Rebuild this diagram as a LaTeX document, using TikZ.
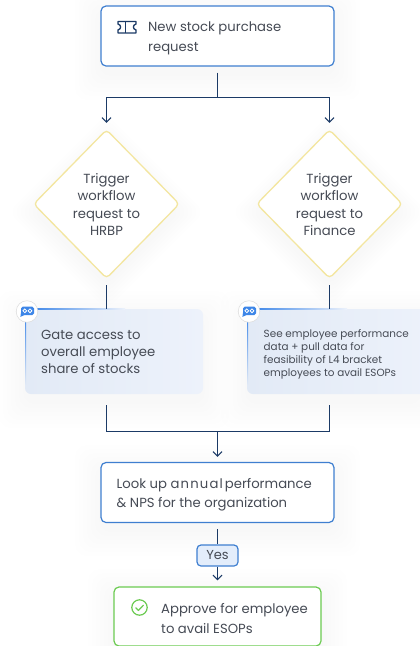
\documentclass[tikz,border=0pt]{standalone}
\usepackage{fontspec}
\setmainfont{Poppins}
\usetikzlibrary{shapes.geometric,arrows.meta}
\definecolor{navy}{HTML}{1B3A66}
\definecolor{boxblue}{HTML}{3F7FD0}
\definecolor{okgreen}{HTML}{6CCB52}
\definecolor{gateyellow}{HTML}{F3E6A0}
\definecolor{inktext}{HTML}{464B55}
\definecolor{panelA}{HTML}{E2EAF6}
\definecolor{panelB}{HTML}{EDF2FB}
\definecolor{pillfill}{HTML}{E3EDFB}
\definecolor{iconblue}{HTML}{3D86E8}
\newcommand{\softshadow}[4]{%
  \foreach \g in {2,6,...,26}{%
    \fill[black,opacity=0.0045,rounded corners=12] (#1-\g,#2-\g+8) rectangle (#3+\g,#4+\g+8);}}
\newcommand{\softdiamond}[3]{%
  \foreach \g in {2,6,...,26}{%
    \fill[black,opacity=0.0045,rounded corners=10] (#1,#2-#3-\g+8) -- (#1+#3+\g,#2+8) -- (#1,#2+#3+\g+8) -- (#1-#3-\g,#2+8) -- cycle;}}
\newcommand{\bubbleicon}[2]{%
  \begin{scope}[shift={(#1,#2)}]
    \fill[white,draw=black!14,line width=0.5] (0,0) circle (10.8);
    \fill[iconblue,rounded corners=1.8] (-6,-5) rectangle (7,3.6);
    \fill[iconblue] (-6,1) -- (-6.6,5.4) -- (-2,3.2) -- cycle;
    \draw[white,line width=0.8] (-2.2,-0.7) circle (1.9);
    \draw[white,line width=0.8] (3,-0.7) circle (1.9);
  \end{scope}}
\tikzset{
  x=1pt,y=-1pt,
  flowbox/.style={draw=boxblue,line width=1.2,fill=white,rounded corners=5,minimum width=233,minimum height=60,inner sep=0},
  okbox/.style={draw=okgreen,line width=1.2,fill=white,rounded corners=5,minimum width=207,minimum height=59,inner sep=0},
  gate/.style={diamond,draw=gateyellow,line width=1.3,fill=white,rounded corners=4,minimum width=146,minimum height=149,inner sep=0},
  panel/.style={rectangle,rounded corners=6,inner sep=0,left color=panelA,right color=panelB},
  label/.style={inner sep=0,text=inktext,font=\fontsize{13.2}{19.5}\selectfont,align=left},
  tightlabel/.style={inner sep=0,text=inktext,font=\fontsize{13.2}{17.2}\selectfont,align=left},
  smalllabel/.style={inner sep=0,text=inktext,font=\fontsize{10.4}{13.2}\selectfont,align=left},
  centerlabel/.style={inner sep=0,text=inktext,font=\fontsize{13.2}{17.2}\selectfont,align=center},
  pill/.style={draw=boxblue,line width=1.2,fill=pillfill,rounded corners=4,minimum width=41,minimum height=21,inner sep=0,text=inktext,font=\fontsize{13}{14}\selectfont},
  link/.style={draw=navy,line width=1.2},
  linkarrow/.style={link,-{Straight Barb[length=4.5,width=9,line width=1.1]}},
}
\begin{document}
\begin{tikzpicture}
\useasboundingbox (0,0) rectangle (420,646);
\fill[white] (0,0) rectangle (420,646);

% soft shadows
\softshadow{101}{6}{334}{66}
\softdiamond{106.5}{204}{72}
\softdiamond{329.5}{204}{72}
\softshadow{25}{309}{203}{394}
\softshadow{247}{309}{420}{394}
\softshadow{101}{463}{334}{522}
\softshadow{114}{587}{321}{646}

% shapes
\node[flowbox] (start) at (217.5,36) {};
\node[gate] (hrbp) at (106.5,204) {};
\node[gate] (fin) at (329.5,204) {};
\node[panel,minimum width=178,minimum height=85] (gatepanel) at (114,351.5) {};
\node[panel,minimum width=190,minimum height=85] (seepanel) at (342,351.5) {};
\node[flowbox] (lookup) at (217.5,492.5) {};
\node[okbox] (approve) at (217.5,616.5) {};

% blue accent edges of the panels
\shade[left color=iconblue,right color=panelB] (31,308.6) rectangle (125,309.6);
\shade[top color=iconblue,bottom color=panelA] (25,315) rectangle (26,385);
\shade[left color=iconblue,right color=panelB] (253,308.6) rectangle (347,309.6);
\shade[top color=iconblue,bottom color=panelA] (247,315) rectangle (248,385);

% connector junctions
\coordinate (splitT) at (start.south |- 0,97.5);
\coordinate (splitL) at (hrbp.north |- 0,97.5);
\coordinate (splitR) at (fin.north |- 0,97.5);
\coordinate (mergeT) at (lookup.north |- 0,431.5);
\coordinate (mergeL) at (hrbp.south |- 0,431.5);
\coordinate (mergeR) at (fin.south |- 0,431.5);

% connectors
\draw[link,shorten <=6] (start.south) -- (splitT);
\draw[linkarrow,shorten >=6] (splitT) -- (splitL) -- (hrbp.north);
\draw[linkarrow,shorten >=6] (splitT) -- (splitR) -- (fin.north);
\draw[link,shorten <=6] (hrbp.south) -- (gatepanel.north -| hrbp.south);
\draw[link,shorten <=6] (fin.south) -- (seepanel.north -| fin.south);
\draw[link,shorten >=11] (mergeL) -- (gatepanel.south -| hrbp.south);
\draw[link,shorten >=11] (mergeR) -- (seepanel.south -| fin.south);
\draw[link] (mergeL) -- (mergeR);
\draw[linkarrow,shorten >=5] (mergeT) -- (lookup.north);
\node[pill] (yes) at (217.5,555.5) {Yes};
\draw[link,shorten <=6] (lookup.south) -- (yes.north);
\draw[linkarrow,shorten >=6] (yes.south) -- (approve.north);

% texts
\node[label,anchor=west] (t1) at (148,38.5) {New stock purchase\\request};
\node[centerlabel] (t2) at (106.5,204.5) {Trigger\\workflow\\request to\\HRBP};
\node[centerlabel] (t3) at (329.5,204.5) {Trigger\\workflow\\request to\\Finance};
\node[tightlabel,anchor=west] (t4) at (41,352) {Gate access to\\overall employee\\share of stocks};
\node[smalllabel,anchor=west] (t5) at (263.5,354.5) {See employee performance\\data + pull data for\\feasibility of L4 bracket\\employees to avail ESOPs};
\node[label,anchor=west] (t6) at (116.5,494.5) {Look up {\addfontfeature{LetterSpace=9}annual}\hspace{-1.5pt} performance\\\& NPS for the organization};
\node[label,anchor=west] (t7) at (161,618.5) {Approve for employee\\to avail ESOPs};

% ticket icon
\draw[navy,line width=1.3,line join=round] (118,21.5) -- (136,21.5) -- (136,24) .. controls (132.5,25) and (132.5,29) .. (136,30) -- (136,33) -- (118,33) -- (118,30) .. controls (121.5,29) and (121.5,25) .. (118,24) -- cycle;
\draw[navy,line width=1.3] (125.5,21.5) -- (125.5,33);

% check icon
\draw[okgreen,line width=1.2] (139.5,607.5) circle (7.7);
\draw[okgreen,line width=1.2,line cap=round,line join=round] (135.8,607.8) -- (138.5,610.4) -- (143.4,605.2);

% speech bubble badges
\bubbleicon{27}{311.5}
\bubbleicon{249}{311.5}
\end{tikzpicture}
\end{document}
